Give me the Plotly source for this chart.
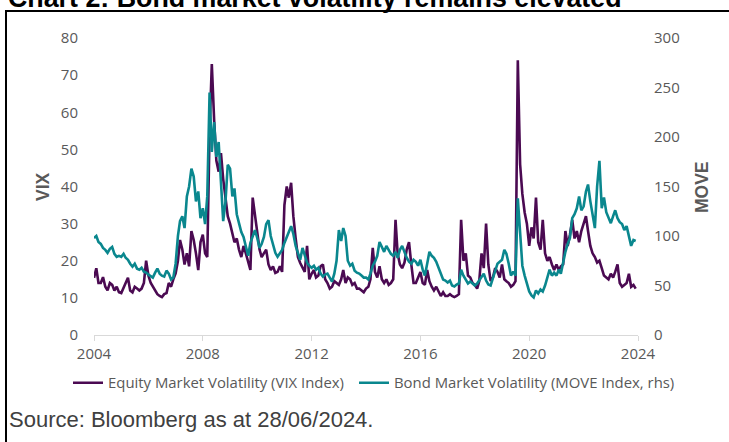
import pandas as pd
import plotly.graph_objects as go

# Monthly observations (chart positions), Jan 2004 .. Dec 2023
dates = pd.date_range("2004-01-01", periods=240, freq="MS")

vix = [
    # 2004
    15.4, 18, 14, 14, 15.6, 13, 12, 14, 13.5, 12, 13, 11.5,
    # 2005
    11.3, 13, 14, 15.4, 12, 11.5, 13, 12.5, 12, 12.5, 14, 20,
    # 2006
    16, 14, 13, 12, 11, 10.5, 10.2, 11, 11.3, 14, 13, 15,
    # 2007
    16.6, 20, 25.6, 23, 19, 22, 18.5, 28, 25.6, 22, 17.5, 25,
    # 2008
    27, 22, 21, 55, 73, 58, 47, 44, 49, 42, 36, 32,
    # 2009
    30, 27, 25, 26, 23, 21, 24, 22, 19.4, 17.5, 37, 32,
    # 2010
    28, 23, 21, 22, 23, 19, 17.5, 18.5, 16.7, 17, 18.5, 17,
    # 2011
    35, 40, 37, 41, 32, 26, 21, 19.4, 18, 17, 24, 15,
    # 2012
    16.5, 17.5, 15.5, 16, 18.5, 19, 15, 14, 12.5, 13, 14.5, 14,
    # 2013
    13.5, 15, 17.5, 14, 15.5, 15, 13.5, 14, 12.5, 12.5, 12, 11.5,
    # 2014
    12.5, 13, 15, 23.5, 17, 15.5, 18.5, 15, 14, 15, 13.5, 14,
    # 2015
    15, 31, 22, 19, 18, 19.5, 23, 25, 19, 14, 14, 15.5,
    # 2016
    17, 14, 13.5, 17.5, 14.5, 13, 12, 13, 11.5, 10.5, 11.5, 10.5,
    # 2017
    10.5, 11, 10.5, 10.2, 10.5, 11, 31, 20, 22, 16, 15.5, 14,
    # 2018
    13.5, 12.5, 14.5, 22, 18, 30, 19, 14.5, 15.5, 18, 17, 15.5,
    # 2019
    19, 15, 14.5, 14, 13, 13.5, 14.5, 74, 46, 38, 33, 30,
    # 2020
    24, 29, 26, 37, 25, 23, 31, 22, 20, 21, 19, 17.5,
    # 2021
    19, 17.5, 18.5, 19, 28, 24, 27, 31, 26, 28, 25, 28,
    # 2022
    30, 32, 28, 24, 22, 21, 19.5, 20, 18, 16, 15.5, 15,
    # 2023
    16.5, 15.5, 17, 19, 14, 13, 13.5, 14, 16.5, 13, 13.5, 12.5,
]

move = [
    # 2004
    98, 100, 94, 92, 88, 86, 83, 87, 89, 82, 79, 80,
    # 2005
    79, 82, 78, 76, 72, 69, 72, 67, 66, 68, 64, 63,
    # 2006
    61, 59, 58, 63, 67, 62, 60, 59, 65, 62, 56, 58,
    # 2007
    72, 100, 115, 120, 108, 140, 150, 168, 160, 135, 145, 118,
    # 2008
    128, 112, 140, 245, 185, 215, 180, 195, 150, 115, 135, 172,
    # 2009
    168, 140, 148, 122, 113, 104, 99, 89, 80, 93, 100, 106,
    # 2010
    98, 88, 92, 99, 112, 116, 100, 90, 83, 79, 82, 86,
    # 2011
    93, 100, 104, 110, 102, 90, 82, 76, 88, 80, 73, 70,
    # 2012
    68, 70, 66, 68, 62, 59, 61, 62, 58, 54, 62, 75,
    # 2013
    106, 95, 108, 100, 75, 70, 72, 65, 63, 62, 60, 58,
    # 2014
    58, 56, 62, 70, 74, 80, 94, 88, 84, 90, 86, 82,
    # 2015
    80, 84, 78, 86, 90, 83, 78, 74, 72, 76, 74, 70,
    # 2016
    76, 66, 60, 72, 84, 80, 78, 74, 68, 62, 56, 55,
    # 2017
    53, 55, 50, 49, 51, 52, 66, 60, 56, 52, 54, 52,
    # 2018
    50, 52, 55, 58, 62, 55, 51, 50, 58, 64, 72, 74,
    # 2019
    76, 86, 82, 72, 60, 64, 60, 138, 100, 70, 60, 52,
    # 2020
    44, 40, 38, 45, 42, 46, 44, 50, 58, 66, 60, 63,
    # 2021
    60, 66, 62, 74, 84, 92, 98, 118, 122, 128, 140, 126,
    # 2022
    130, 145, 152, 135, 120, 108, 150, 176, 128, 139, 124, 118,
    # 2023
    113, 120, 126, 118, 114, 112, 106, 110, 100, 90, 96, 95,
]

tick_years = [2004, 2008, 2012, 2016, 2020, 2024]
vix_ticks = list(range(0, 81, 10))
move_ticks = list(range(0, 301, 50))

PURPLE = "#4B0A52"
TEAL = "#0A878E"
GREY = "#595959"

fig = go.Figure()
fig.add_trace(go.Scatter(x=dates, y=vix, mode="lines", legend="legend",
                         name="Equity Market Volatility (VIX Index)",
                         line=dict(color=PURPLE, width=2.6)))
fig.add_trace(go.Scatter(x=dates, y=move, mode="lines", yaxis="y2", legend="legend2",
                         name="Bond Market Volatility (MOVE Index, rhs)",
                         line=dict(color=TEAL, width=2.6)))

# pixel -> paper helpers (plot area: x 94..638, y 38..335)
L, R, T, B = 94, 638, 38, 335
def px(x):
    return (x - L) / (R - L)
def py(y):
    return (B - y) / (B - T)

tickfont = dict(family="Open Sans, Arial, sans-serif", size=15, color=GREY)
legfont = dict(family="Open Sans, Arial, sans-serif", size=14.9, color=GREY)

fig.update_layout(
    width=729, height=442,
    margin=dict(l=L, r=729 - R, t=T, b=442 - B, autoexpand=False),
    paper_bgcolor="white", plot_bgcolor="white",
    showlegend=True,
    legend=dict(orientation="h", x=px(68), y=py(383), xanchor="left", yanchor="middle",
                font=legfont, itemwidth=30, bgcolor="rgba(0,0,0,0)"),
    legend2=dict(orientation="h", x=px(354), y=py(383), xanchor="left", yanchor="middle",
                 font=legfont, itemwidth=30, bgcolor="rgba(0,0,0,0)"),
    xaxis=dict(type="date", range=["2004-01-01", "2024-01-01"],
               tickvals=[f"{y}-01-01" for y in tick_years],
               ticktext=[str(y) for y in tick_years],
               showgrid=False, zeroline=False, showline=True, linecolor="#D9D9D9", linewidth=1,
               ticks="outside", ticklen=5, tickcolor="#D9D9D9", tickfont=tickfont),
    yaxis=dict(range=[0, 80], tickvals=vix_ticks, showgrid=False, zeroline=False,
               showline=False, ticks="outside", ticklen=12, tickcolor="rgba(0,0,0,0)",
               tickfont=tickfont),
    yaxis2=dict(range=[0, 300], tickvals=move_ticks, overlaying="y", side="right",
                showgrid=False, zeroline=False, showline=False, ticks="outside", ticklen=12,
                tickcolor="rgba(0,0,0,0)", tickfont=tickfont),
)

fig.add_annotation(text="VIX", xref="paper", yref="paper", x=px(43), y=py(187),
                   textangle=-90, showarrow=False, xanchor="center", yanchor="middle",
                   font=dict(family="Liberation Sans, Arial, sans-serif", size=17.5, color=GREY, weight="bold"))
fig.add_annotation(text="MOVE", xref="paper", yref="paper", x=px(702), y=py(187),
                   textangle=-90, showarrow=False, xanchor="center", yanchor="middle",
                   font=dict(family="Liberation Sans, Arial, sans-serif", size=17.5, color=GREY, weight="bold"))
fig.add_annotation(text="Source: Bloomberg as at 28/06/2024.", xref="paper", yref="paper",
                   x=px(7), y=py(419), showarrow=False, xanchor="left", yanchor="middle",
                   font=dict(family="Liberation Sans, Arial, sans-serif", size=22, color="#404040"))
fig.add_annotation(text="<b>Chart 2: Bond market volatility remains elevated</b>", xref="paper", yref="paper",
                   x=px(6), y=py(15), showarrow=False, xanchor="left", yanchor="bottom",
                   font=dict(family="Liberation Sans, Arial, sans-serif", size=26.8, color="black"))

fig.add_shape(type="rect", xref="paper", yref="paper",
              x0=px(6), x1=px(740), y0=py(460), y1=py(11),
              line=dict(color="black", width=2), fillcolor="rgba(0,0,0,0)", layer="above")

fig.write_html("out.html", config={"displayModeBar": False},
               post_script="document.body.style.margin='0px';document.body.style.overflow='hidden';")
